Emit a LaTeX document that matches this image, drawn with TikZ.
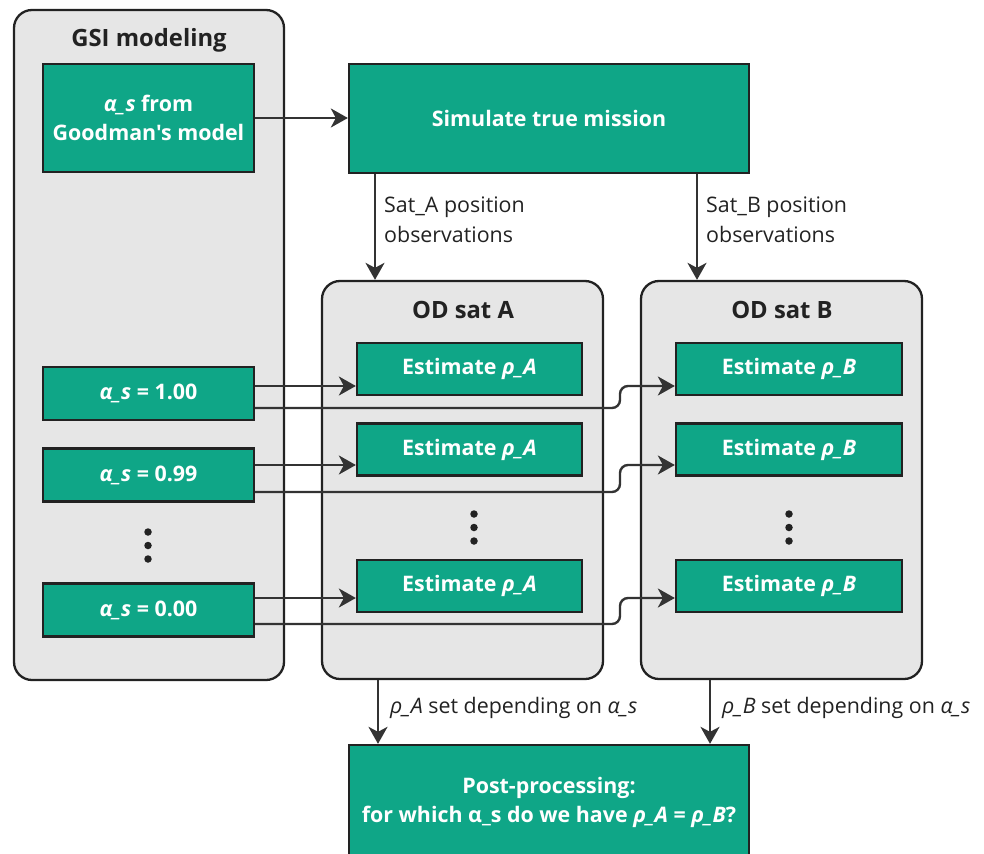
\documentclass[tikz,border=0pt]{standalone}
\usepackage{fontspec}
\setmainfont{Open Sans}[Ligatures=TeXOff]
\usetikzlibrary{arrows.meta}
\definecolor{grn}{HTML}{0FA687}
\definecolor{gfill}{HTML}{E6E6E6}
\definecolor{ln}{HTML}{222222}
\definecolor{arw}{HTML}{333333}
\begin{document}
\begin{tikzpicture}[x=1pt,y=-1pt,
  grp/.style={draw=ln, fill=gfill, line width=2.3pt, rounded corners=18pt, inner sep=0pt},
  ttl/.style={font=\bfseries\fontsize{23.8}{28}\selectfont, text=ln, inner sep=0pt},
  gbox/.style={draw=ln, fill=grn, line width=2.3pt, text=white, align=center, inner sep=0pt,
    font=\bfseries\fontsize{21.4}{29.5}\selectfont},
  lbl/.style={font=\fontsize{21.4}{30}\selectfont, text=ln, align=left, anchor=west, inner sep=0pt},
  dotnode/.style={circle, fill=ln, inner sep=0pt, minimum size=7.5pt},
  arr/.style={draw=arw, line width=2.4pt, -{Stealth[length=17pt,width=19pt,inset=5pt]}},
]
\useasboundingbox (0,0) rectangle (984,853);

% groups
\node[grp, minimum width=270pt, minimum height=670pt] (gsi) at (149,345) {};
\node[ttl] (gsiT) at (149,40) {GSI modeling};
\node[grp, minimum width=281pt, minimum height=398pt] (oda) at (462.5,480) {};
\node[ttl] (odaT) at (463,310) {OD sat A};
\node[grp, minimum width=281pt, minimum height=398pt] (odb) at (781.5,480) {};
\node[ttl] (odbT) at (782,310) {OD sat B};

% green boxes
\node[gbox, minimum width=211pt, minimum height=108pt] (good) at (148.5,118) {\textit{α\_s} from\\Goodman's model};
\node[gbox, minimum width=400pt, minimum height=109pt] (sim) at (549,118.5) {Simulate true mission};

\node[gbox, minimum width=211pt, minimum height=53pt] (al1) at (148.5,393.5) {\textit{α\_s} = 1.00};
\node[gbox, minimum width=211pt, minimum height=53pt] (al2) at (148.5,475) {\textit{α\_s} = 0.99};
\node[gbox, minimum width=211pt, minimum height=53pt] (al0) at (148.5,610) {\textit{α\_s} = 0.00};

\node[gbox, minimum width=225pt, minimum height=52pt] (ea1) at (469.5,369) {Estimate \textit{ρ\_A}};
\node[gbox, minimum width=225pt, minimum height=52pt] (ea2) at (469.5,449.5) {Estimate \textit{ρ\_A}};
\node[gbox, minimum width=225pt, minimum height=52pt] (ea3) at (469.5,586) {Estimate \textit{ρ\_A}};

\node[gbox, minimum width=226pt, minimum height=52pt] (eb1) at (789,369) {Estimate \textit{ρ\_B}};
\node[gbox, minimum width=226pt, minimum height=52pt] (eb2) at (789,449.5) {Estimate \textit{ρ\_B}};
\node[gbox, minimum width=226pt, minimum height=52pt] (eb3) at (789,586) {Estimate \textit{ρ\_B}};

\node[gbox, minimum width=400pt, minimum height=115pt] (post) at (549,802.5)
  {Post-processing:\\for which α\_s do we have \textit{ρ\_A} = \textit{ρ\_B}?};

% dots
\node[dotnode] (dl1) at (148,532) {};
\node[dotnode] (dl2) at (148,545.5) {};
\node[dotnode] (dl3) at (148,559) {};
\node[dotnode] (da1) at (474,514) {};
\node[dotnode] (da2) at (474,527.5) {};
\node[dotnode] (da3) at (474,541) {};
\node[dotnode] (db1) at (789,514) {};
\node[dotnode] (db2) at (789,527.5) {};
\node[dotnode] (db3) at (789,541) {};

% connectors
\draw[arr] (good.east) -- (sim.west |- good.east);
\draw[arr] (sim.south -| 375,0) -- (oda.north -| 375,0);
\draw[arr] (sim.south -| 697,0) -- (odb.north -| 697,0);
\node[lbl] (labA) at (384,220) {Sat\_A position\\observations};
\node[lbl] (labB) at (706,220) {Sat\_B position\\observations};

\draw[arr] (al1.east |- 0,386) -- (ea1.west |- 0,386);
\draw[arr] (al2.east |- 0,465) -- (ea2.west |- 0,465);
\draw[arr] (al0.east |- 0,598) -- (ea3.west |- 0,598);

\draw[arr, rounded corners=8pt] (al1.east |- 0,408) -| (620,386) -- (eb1.west |- 0,386);
\draw[arr, rounded corners=8pt] (al2.east |- 0,492) -| (620,465) -- (eb2.west |- 0,465);
\draw[arr, rounded corners=8pt] (al0.east |- 0,624) -| (620,598) -- (eb3.west |- 0,598);

\draw[arr] (oda.south -| 378,0) -- (post.north -| 378,0);
\draw[arr] (odb.south -| 710,0) -- (post.north -| 710,0);
\node[lbl] (labC) at (390,708) {\textit{ρ\_A} set depending on \textit{α\_s}};
\node[lbl] (labD) at (722,708) {\textit{ρ\_B} set depending on \textit{α\_s}};
\end{tikzpicture}
\end{document}
